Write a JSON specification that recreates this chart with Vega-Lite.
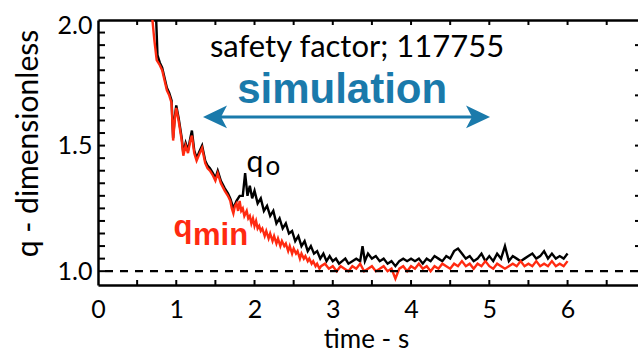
{
  "$schema": "https://vega.github.io/schema/vega-lite/v6.json",
  "width": 540,
  "height": 265,
  "autosize": {"type": "none"},
  "padding": {"left": 98, "top": 20, "right": 0, "bottom": 68},
  "background": "white",
  "config": {
    "view": {"stroke": null},
    "font": "Lato",
    "axis": {
      "grid": false,
      "domainColor": "black",
      "domainWidth": 2.5,
      "ticks": false,
      "tickSize": 0,
      "labelColor": "black",
      "labelFont": "Lato",
      "labelFontSize": 25,
      "titleFont": "Lato",
      "titleColor": "black",
      "titleFontWeight": "normal",
      "labelOverlap": false,
      "labelFlush": false
    }
  },
  "datasets": {
    "xticks": [{"t":0.5},{"t":1},{"t":1.5},{"t":2},{"t":2.5},{"t":3},{"t":3.5},{"t":4},{"t":4.5},{"t":5},{"t":5.5},{"t":6},{"t":6.5}],
    "lticks": [{"q":1.0},{"q":1.05},{"q":1.1},{"q":1.15},{"q":1.2},{"q":1.25},{"q":1.3},{"q":1.35},{"q":1.4},{"q":1.45},{"q":1.5},{"q":1.55},{"q":1.6},{"q":1.65},{"q":1.7},{"q":1.75},{"q":1.8},{"q":1.85},{"q":1.9},{"q":1.95}],
    "rticks": [{"q":1.1},{"q":1.2},{"q":1.3},{"q":1.4},{"q":1.5},{"q":1.6},{"q":1.7},{"q":1.8},{"q":1.9}],
    "q0": [
      {"t":0.74,"q":2.03},{"t":0.76,"q":1.86},{"t":0.79,"q":1.83},{"t":0.82,"q":1.81},{"t":0.85,"q":1.77},{"t":0.88,"q":1.73},{"t":0.91,"q":1.71},{"t":0.94,"q":1.68},{"t":0.96,"q":1.53},{"t":0.98,"q":1.61},{"t":1.0,"q":1.66},{"t":1.03,"q":1.61},{"t":1.05,"q":1.57},{"t":1.07,"q":1.53},{"t":1.09,"q":1.47},{"t":1.12,"q":1.51},{"t":1.15,"q":1.48},{"t":1.18,"q":1.53},{"t":1.2,"q":1.56},{"t":1.23,"q":1.48},{"t":1.26,"q":1.45},{"t":1.3,"q":1.48},{"t":1.33,"q":1.5},{"t":1.37,"q":1.44},{"t":1.4,"q":1.42},{"t":1.43,"q":1.41},{"t":1.47,"q":1.39},{"t":1.5,"q":1.37},{"t":1.53,"q":1.4},{"t":1.57,"q":1.36},{"t":1.62,"q":1.33},{"t":1.66,"q":1.31},{"t":1.69,"q":1.29},{"t":1.73,"q":1.25},{"t":1.77,"q":1.28},{"t":1.81,"q":1.3},{"t":1.85,"q":1.3},{"t":1.88,"q":1.39},{"t":1.91,"q":1.3},{"t":1.94,"q":1.34},{"t":1.97,"q":1.29},{"t":2.0,"q":1.32},{"t":2.04,"q":1.27},{"t":2.08,"q":1.29},{"t":2.12,"q":1.24},{"t":2.16,"q":1.26},{"t":2.2,"q":1.22},{"t":2.24,"q":1.24},{"t":2.28,"q":1.19},{"t":2.32,"q":1.21},{"t":2.36,"q":1.17},{"t":2.4,"q":1.19},{"t":2.44,"q":1.15},{"t":2.48,"q":1.16},{"t":2.52,"q":1.12},{"t":2.56,"q":1.14},{"t":2.6,"q":1.1},{"t":2.64,"q":1.12},{"t":2.68,"q":1.08},{"t":2.72,"q":1.1},{"t":2.76,"q":1.07},{"t":2.8,"q":1.08},{"t":2.84,"q":1.05},{"t":2.88,"q":1.07},{"t":2.92,"q":1.04},{"t":2.96,"q":1.06},{"t":3.0,"q":1.04},{"t":3.04,"q":1.05},{"t":3.08,"q":1.03},{"t":3.12,"q":1.04},{"t":3.16,"q":1.05},{"t":3.2,"q":1.03},{"t":3.25,"q":1.04},{"t":3.3,"q":1.05},{"t":3.35,"q":1.04},{"t":3.38,"q":1.1},{"t":3.41,"q":1.04},{"t":3.45,"q":1.07},{"t":3.5,"q":1.05},{"t":3.55,"q":1.06},{"t":3.6,"q":1.04},{"t":3.65,"q":1.05},{"t":3.7,"q":1.03},{"t":3.75,"q":1.04},{"t":3.8,"q":1.02},{"t":3.85,"q":1.04},{"t":3.9,"q":1.05},{"t":3.95,"q":1.04},{"t":4.0,"q":1.05},{"t":4.05,"q":1.04},{"t":4.1,"q":1.05},{"t":4.15,"q":1.03},{"t":4.2,"q":1.05},{"t":4.25,"q":1.04},{"t":4.3,"q":1.06},{"t":4.35,"q":1.05},{"t":4.4,"q":1.04},{"t":4.45,"q":1.06},{"t":4.5,"q":1.05},{"t":4.55,"q":1.08},{"t":4.6,"q":1.09},{"t":4.65,"q":1.07},{"t":4.7,"q":1.05},{"t":4.75,"q":1.06},{"t":4.8,"q":1.04},{"t":4.85,"q":1.05},{"t":4.9,"q":1.07},{"t":4.95,"q":1.04},{"t":5.0,"q":1.06},{"t":5.05,"q":1.04},{"t":5.1,"q":1.07},{"t":5.15,"q":1.05},{"t":5.2,"q":1.1},{"t":5.25,"q":1.04},{"t":5.3,"q":1.06},{"t":5.35,"q":1.05},{"t":5.4,"q":1.04},{"t":5.45,"q":1.05},{"t":5.5,"q":1.06},{"t":5.55,"q":1.07},{"t":5.6,"q":1.05},{"t":5.65,"q":1.06},{"t":5.7,"q":1.08},{"t":5.75,"q":1.05},{"t":5.8,"q":1.07},{"t":5.85,"q":1.05},{"t":5.9,"q":1.06},{"t":5.95,"q":1.05},{"t":6.0,"q":1.07}
    ],
    "qmin": [
      {"t":0.68,"q":2.05},{"t":0.72,"q":1.92},{"t":0.75,"q":1.84},{"t":0.79,"q":1.82},{"t":0.82,"q":1.8},{"t":0.85,"q":1.76},{"t":0.88,"q":1.72},{"t":0.91,"q":1.7},{"t":0.94,"q":1.67},{"t":0.96,"q":1.52},{"t":0.98,"q":1.6},{"t":1.0,"q":1.65},{"t":1.03,"q":1.6},{"t":1.05,"q":1.56},{"t":1.07,"q":1.52},{"t":1.09,"q":1.46},{"t":1.12,"q":1.5},{"t":1.15,"q":1.47},{"t":1.18,"q":1.52},{"t":1.2,"q":1.54},{"t":1.23,"q":1.47},{"t":1.26,"q":1.44},{"t":1.3,"q":1.47},{"t":1.33,"q":1.49},{"t":1.37,"q":1.43},{"t":1.4,"q":1.41},{"t":1.43,"q":1.4},{"t":1.47,"q":1.38},{"t":1.5,"q":1.36},{"t":1.53,"q":1.39},{"t":1.57,"q":1.35},{"t":1.62,"q":1.32},{"t":1.66,"q":1.3},{"t":1.69,"q":1.28},{"t":1.71,"q":1.25},{"t":1.73,"q":1.23},{"t":1.75,"q":1.26},{"t":1.77,"q":1.27},{"t":1.79,"q":1.24},{"t":1.81,"q":1.28},{"t":1.83,"q":1.24},{"t":1.85,"q":1.25},{"t":1.87,"q":1.22},{"t":1.9,"q":1.24},{"t":1.92,"q":1.21},{"t":1.94,"q":1.22},{"t":1.96,"q":1.19},{"t":1.98,"q":1.21},{"t":2.0,"q":1.18},{"t":2.02,"q":1.2},{"t":2.04,"q":1.17},{"t":2.06,"q":1.18},{"t":2.08,"q":1.16},{"t":2.1,"q":1.17},{"t":2.13,"q":1.14},{"t":2.15,"q":1.16},{"t":2.18,"q":1.13},{"t":2.2,"q":1.15},{"t":2.23,"q":1.12},{"t":2.25,"q":1.14},{"t":2.28,"q":1.11},{"t":2.3,"q":1.13},{"t":2.33,"q":1.1},{"t":2.35,"q":1.12},{"t":2.38,"q":1.1},{"t":2.4,"q":1.11},{"t":2.43,"q":1.08},{"t":2.45,"q":1.1},{"t":2.48,"q":1.07},{"t":2.5,"q":1.09},{"t":2.53,"q":1.07},{"t":2.55,"q":1.08},{"t":2.58,"q":1.05},{"t":2.6,"q":1.07},{"t":2.63,"q":1.05},{"t":2.65,"q":1.06},{"t":2.68,"q":1.04},{"t":2.7,"q":1.05},{"t":2.73,"q":1.03},{"t":2.75,"q":1.04},{"t":2.78,"q":1.02},{"t":2.8,"q":1.03},{"t":2.83,"q":1.01},{"t":2.85,"q":1.02},{"t":2.9,"q":1.03},{"t":2.95,"q":1.01},{"t":3.0,"q":1.02},{"t":3.05,"q":1.0},{"t":3.1,"q":1.02},{"t":3.15,"q":1.01},{"t":3.2,"q":1.0},{"t":3.25,"q":1.02},{"t":3.3,"q":1.01},{"t":3.35,"q":1.03},{"t":3.4,"q":1.0},{"t":3.45,"q":1.01},{"t":3.5,"q":1.02},{"t":3.55,"q":1.0},{"t":3.6,"q":1.01},{"t":3.65,"q":1.02},{"t":3.7,"q":1.0},{"t":3.75,"q":1.01},{"t":3.8,"q":0.97},{"t":3.85,"q":1.01},{"t":3.9,"q":1.02},{"t":3.95,"q":1.0},{"t":4.0,"q":1.02},{"t":4.05,"q":1.01},{"t":4.1,"q":1.03},{"t":4.15,"q":1.01},{"t":4.2,"q":1.02},{"t":4.25,"q":1.0},{"t":4.3,"q":1.02},{"t":4.35,"q":1.01},{"t":4.4,"q":1.03},{"t":4.45,"q":1.02},{"t":4.5,"q":1.01},{"t":4.55,"q":1.03},{"t":4.6,"q":1.02},{"t":4.65,"q":1.04},{"t":4.7,"q":1.02},{"t":4.75,"q":1.03},{"t":4.8,"q":1.01},{"t":4.85,"q":1.03},{"t":4.9,"q":1.02},{"t":4.95,"q":1.04},{"t":5.0,"q":1.02},{"t":5.05,"q":1.01},{"t":5.1,"q":1.03},{"t":5.15,"q":1.02},{"t":5.2,"q":1.01},{"t":5.25,"q":1.02},{"t":5.3,"q":1.03},{"t":5.35,"q":1.02},{"t":5.4,"q":1.04},{"t":5.45,"q":1.02},{"t":5.5,"q":1.03},{"t":5.55,"q":1.02},{"t":5.6,"q":1.04},{"t":5.65,"q":1.02},{"t":5.7,"q":1.03},{"t":5.75,"q":1.02},{"t":5.8,"q":1.04},{"t":5.85,"q":1.02},{"t":5.9,"q":1.03},{"t":5.95,"q":1.02},{"t":6.0,"q":1.04}
    ]
  },
  "layer": [
    {
      "data": {"name": "q0"},
      "mark": {"type": "line", "color": "black", "strokeWidth": 2.4, "clip": true},
      "encoding": {
        "x": {
          "field": "t", "type": "quantitative",
          "scale": {"domain": [0, 6.9], "nice": false, "zero": false},
          "axis": {
            "orient": "bottom",
            "values": [0, 1, 2, 3, 4, 5, 6],
            "format": "d",
            "labelPadding": 12,
            "title": "time - s",
            "titleFontSize": 26,
            "titleX": 268,
            "titleY": 62,
            "titleAlign": "center",
            "titleBaseline": "alphabetic"
          }
        },
        "y": {
          "field": "q", "type": "quantitative",
          "scale": {"domain": [0.945, 2.0], "nice": false, "zero": false},
          "axis": {
            "orient": "left",
            "values": [1.0, 1.5, 2.0],
            "format": ".1f",
            "labelPadding": 6,
            "labelOffset": {"condition": {"test": "datum.value > 1.9", "value": 5}, "value": 0},
            "title": "q - dimensionless",
            "titleFontSize": 30,
            "titleAngle": -90,
            "titleX": -61,
            "titleY": 123,
            "titleAlign": "center",
            "titleBaseline": "alphabetic"
          }
        }
      }
    },
    {
      "data": {"name": "qmin"},
      "mark": {"type": "line", "color": "#ff2a10", "strokeWidth": 2.4, "clip": true},
      "encoding": {
        "x": {"field": "t", "type": "quantitative", "axis": null},
        "y": {"field": "q", "type": "quantitative", "axis": null}
      }
    },
    {
      "data": {"values": [{"q": 1.0}]},
      "mark": {"type": "rule", "color": "black", "strokeWidth": 2.2, "strokeDash": [8, 7]},
      "encoding": {
        "y": {"field": "q", "type": "quantitative", "axis": null}
      }
    },
    {
      "data": {"name": "xticks"},
      "mark": {"type": "tick", "orient": "vertical", "color": "black", "size": 10, "thickness": 2, "opacity": 1, "clip": true},
      "encoding": {
        "x": {"field": "t", "type": "quantitative", "axis": null},
        "y": {"datum": 0.945, "type": "quantitative", "axis": null}
      }
    },
    {
      "data": {"name": "xticks"},
      "mark": {"type": "tick", "orient": "vertical", "color": "black", "size": 10, "thickness": 2, "opacity": 1, "clip": true},
      "encoding": {
        "x": {"field": "t", "type": "quantitative", "axis": null},
        "y": {"datum": 2.0, "type": "quantitative", "axis": null}
      }
    },
    {
      "data": {"name": "lticks"},
      "mark": {"type": "tick", "orient": "horizontal", "color": "black", "size": 14, "thickness": 2, "opacity": 1, "clip": true},
      "encoding": {
        "y": {"field": "q", "type": "quantitative", "axis": null},
        "x": {"datum": 0, "type": "quantitative", "axis": null}
      }
    },
    {
      "data": {"name": "rticks"},
      "mark": {"type": "tick", "orient": "horizontal", "color": "black", "size": 6, "thickness": 2, "opacity": 1, "clip": true},
      "encoding": {
        "y": {"field": "q", "type": "quantitative", "axis": null},
        "x": {"datum": 6.9, "type": "quantitative", "axis": null}
      }
    },
    {
      "data": {"values": [{"t": 1.55, "t2": 4.8, "q": 1.614}]},
      "mark": {"type": "rule", "color": "#1a7aab", "strokeWidth": 3},
      "encoding": {
        "x": {"field": "t", "type": "quantitative", "axis": null},
        "x2": {"field": "t2"},
        "y": {"field": "q", "type": "quantitative", "axis": null}
      }
    },
    {
      "data": {"values": [{"t": 1.495, "q": 1.614}]},
      "mark": {"type": "point", "filled": true, "opacity": 1, "color": "#1a7aab", "size": 576, "shape": "M-1,0L1,-0.95L0.5,0L1,0.95Z"},
      "encoding": {
        "x": {"field": "t", "type": "quantitative", "axis": null},
        "y": {"field": "q", "type": "quantitative", "axis": null}
      }
    },
    {
      "data": {"values": [{"t": 4.856, "q": 1.614}]},
      "mark": {"type": "point", "filled": true, "opacity": 1, "color": "#1a7aab", "size": 576, "shape": "M1,0L-1,-0.95L-0.5,0L-1,0.95Z"},
      "encoding": {
        "x": {"field": "t", "type": "quantitative", "axis": null},
        "y": {"field": "q", "type": "quantitative", "axis": null}
      }
    },
    {
      "data": {"values": [{"t": 3.31, "q": 1.853, "label": "safety factor; 117755"}]},
      "mark": {"type": "text", "font": "Lato", "fontSize": 31, "color": "black", "align": "center", "baseline": "alphabetic"},
      "encoding": {
        "x": {"field": "t", "type": "quantitative", "axis": null},
        "y": {"field": "q", "type": "quantitative", "axis": null},
        "text": {"field": "label"}
      }
    },
    {
      "data": {"values": [{"t": 3.12, "q": 1.669, "label": "simulation"}]},
      "mark": {"type": "text", "font": "Liberation Sans", "fontWeight": "bold", "fontSize": 42, "color": "#1a7aab", "align": "center", "baseline": "alphabetic"},
      "encoding": {
        "x": {"field": "t", "type": "quantitative", "axis": null},
        "y": {"field": "q", "type": "quantitative", "axis": null},
        "text": {"field": "label"}
      }
    },
    {
      "data": {"values": [{"t": 2.006, "q": 1.394, "label": "q"}]},
      "mark": {"type": "text", "font": "Lato", "fontSize": 30, "color": "black", "align": "center", "baseline": "alphabetic"},
      "encoding": {
        "x": {"field": "t", "type": "quantitative", "axis": null},
        "y": {"field": "q", "type": "quantitative", "axis": null},
        "text": {"field": "label"}
      }
    },
    {
      "data": {"values": [{"t": 2.236, "q": 1.382, "label": "o"}]},
      "mark": {"type": "text", "font": "Lato", "fontSize": 26, "color": "black", "align": "center", "baseline": "alphabetic"},
      "encoding": {
        "x": {"field": "t", "type": "quantitative", "axis": null},
        "y": {"field": "q", "type": "quantitative", "axis": null},
        "text": {"field": "label"}
      }
    },
    {
      "data": {"values": [{"t": 1.086, "q": 1.135, "label": "q"}]},
      "mark": {"type": "text", "font": "Liberation Sans", "fontWeight": "bold", "fontSize": 31, "color": "#ff2a10", "align": "center", "baseline": "alphabetic"},
      "encoding": {
        "x": {"field": "t", "type": "quantitative", "axis": null},
        "y": {"field": "q", "type": "quantitative", "axis": null},
        "text": {"field": "label"}
      }
    },
    {
      "data": {"values": [{"t": 1.214, "q": 1.104, "label": "min"}]},
      "mark": {"type": "text", "font": "Liberation Sans", "fontWeight": "bold", "fontSize": 31, "color": "#ff2a10", "align": "left", "baseline": "alphabetic"},
      "encoding": {
        "x": {"field": "t", "type": "quantitative", "axis": null},
        "y": {"field": "q", "type": "quantitative", "axis": null},
        "text": {"field": "label"}
      }
    },
    {
      "data": {"values": [{"t": 0, "q": 1.0}]},
      "mark": {"type": "point", "opacity": 0},
      "encoding": {
        "x": {
          "field": "t", "type": "quantitative",
          "axis": {"orient": "top", "labels": false, "title": null, "values": [0]}
        },
        "y": {"field": "q", "type": "quantitative", "axis": null}
      }
    }
  ],
  "resolve": {"axis": {"x": "independent", "y": "independent"}}
}
